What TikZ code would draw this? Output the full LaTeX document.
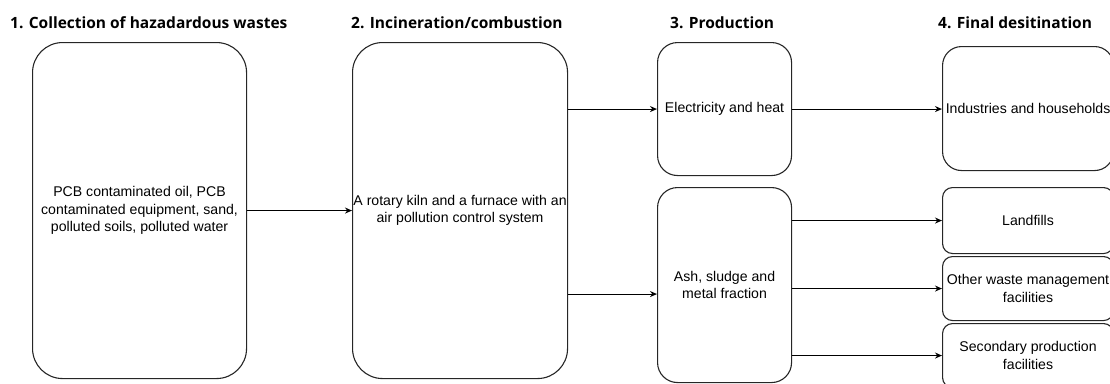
\documentclass[tikz,border=0pt]{standalone}
\usepackage{fontspec}
\setmainfont{Liberation Sans}
\newfontfamily\headfont{Open Sans}
\usetikzlibrary{arrows.meta}
\begin{document}
\begin{tikzpicture}[x=1pt,y=-1pt,
  box/.style={draw=black!85, line width=1.1pt, anchor=north west, align=center,
    inner sep=0pt, font=\fontsize{14.1}{17.3}\selectfont},
  head/.style={anchor=base west, inner sep=0pt, font=\headfont\bfseries\fontsize{15.5}{17}\selectfont},
  arr/.style={draw=black, line width=1.1pt, -{Stealth[length=7pt,width=6pt]}}]
\useasboundingbox (0,0) rectangle (1110,383);
\clip (0,0) rectangle (1110,383);

% column headings
\node[head] (h1) at (10,28) {1. Collection of hazadardous wastes};
\node[head] (h2) at (351,28) {2. Incineration/combustion};
\node[head] (h3) at (670,28) {3. Production};
\node[head] (h4) at (938,28) {4. Final desitination};

% column 1 and 2
\node[box, rounded corners=30pt, minimum width=214pt, minimum height=336pt] (col) at (32,42)
  {PCB contaminated oil, PCB\\contaminated equipment, sand,\\polluted soils, polluted water};
\node[box, rounded corners=30pt, minimum width=215pt, minimum height=336pt] (inc) at (352,42)
  {A rotary kiln and a furnace with an\\air pollution control system};

% column 3
\node[box, rounded corners=20pt, minimum width=134pt, minimum height=133pt] (elec) at (657,42)
  {Electricity and heat};
\node[box, rounded corners=20pt, minimum width=134pt, minimum height=195pt] (ash) at (657,187)
  {Ash, sludge and\\metal fraction};
\coordinate (ashin) at ([yshift=-9pt]ash.west);

% column 4
\node[box, rounded corners=19pt, minimum width=171pt, minimum height=124pt] (ind) at (942,46)
  {Industries and households};
\node[box, rounded corners=10pt, minimum width=171pt, minimum height=66pt] (land) at (942,187)
  {Landfills};
\node[box, rounded corners=10pt, minimum width=171pt, minimum height=64pt] (oth) at (942,256)
  {Other waste management\\facilities};
\node[box, rounded corners=10pt, minimum width=171pt, minimum height=64pt] (sec) at (942,323)
  {Secondary production\\facilities};

% connectors
\draw[arr] (col.east) -- (col.east -| inc.west);
\draw[arr] (inc.east |- elec.west) -- (elec.west);
\draw[arr] (inc.east |- ashin) -- (ashin);
\draw[arr] (elec.east) -- (elec.east -| ind.west);
\draw[arr] (ash.east |- land.west) -- (land.west);
\draw[arr] (ash.east |- oth.west) -- (oth.west);
\draw[arr] (ash.east |- sec.west) -- (sec.west);
\end{tikzpicture}
\end{document}
